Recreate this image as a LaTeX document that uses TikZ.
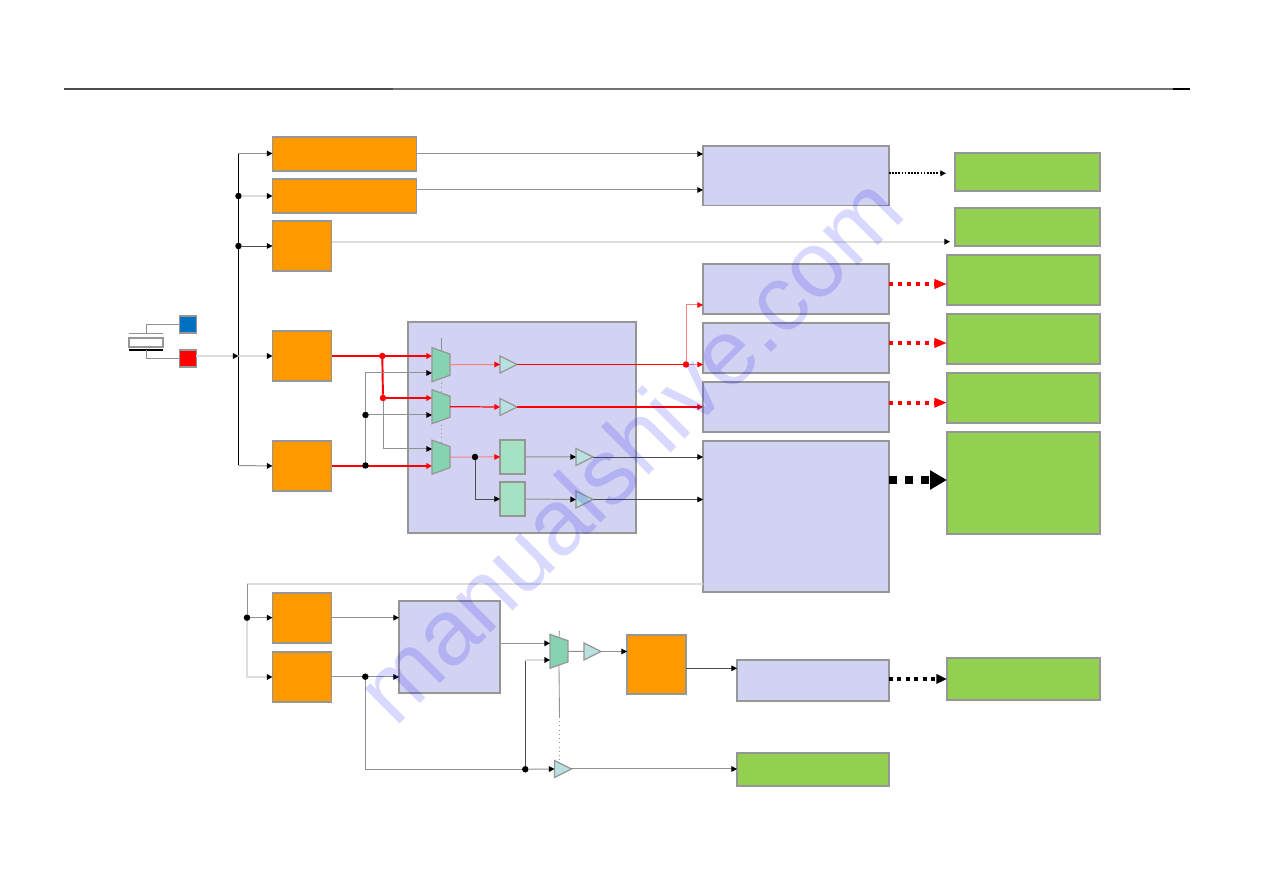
\documentclass[tikz,border=0pt]{standalone}
\usepackage{fontspec}
\usepackage{tikz}
\usetikzlibrary{shapes,shapes.geometric,arrows.meta,positioning}
\newfontfamily\markfont{Liberation Sans}
\definecolor{boxorange}{RGB}{255,153,0}
\definecolor{boxlav}{RGB}{210,210,242}
\definecolor{boxgreen}{RGB}{146,208,80}
\definecolor{boxblue}{RGB}{0,112,192}
\definecolor{muxgreen}{RGB}{133,211,176}
\definecolor{ampblue}{RGB}{185,224,224}
\definecolor{regmint}{RGB}{165,225,195}
\definecolor{edgegray}{RGB}{150,150,150}
\definecolor{wiregray}{RGB}{145,145,145}
\definecolor{wirepale}{RGB}{221,221,221}
\definecolor{wirepink}{RGB}{245,130,130}
\tikzset{
  plainbox/.style={draw=edgegray,line width=.35pt,inner sep=0,outer sep=0,anchor=north west},
  orangebox/.style={plainbox,fill=boxorange},
  lavbox/.style={plainbox,fill=boxlav},
  greenbox/.style={plainbox,fill=boxgreen},
  regbox/.style={plainbox,fill=regmint},
  muxbox/.style={draw=edgegray,line width=.35pt,fill=muxgreen,trapezium,trapezium stretches=true,
    shape border rotate=270,trapezium left angle=73,trapezium right angle=73,
    minimum width=.34cm,minimum height=.18cm,inner sep=.5pt,outer sep=0},
  ampbox/.style={draw=edgegray,line width=.35pt,fill=ampblue,isosceles triangle,isosceles triangle stretches=true,
    minimum width=.17cm,minimum height=.17cm,inner sep=0,outer sep=0,anchor=lower side},
  bluepin/.style={plainbox,fill=boxblue},
  dotnode/.style={circle,fill=black,inner sep=0,minimum size=.065cm,outer sep=0},
  reddot/.style={circle,fill=red,inner sep=0,minimum size=.065cm,outer sep=0},
  tipblack/.style={-{Triangle[black,length=1.6pt,width=1.6pt]}},
  tipred/.style={-{Triangle[red,length=1.6pt,width=1.6pt]}},
  wire/.style={line width=.28pt,color=wiregray},
  wiredark/.style={line width=.25pt,color=black!70},
  wirelight/.style={line width=.55pt,color=wirepale},
  wirered/.style={line width=.55pt,color=red},
  wirethin/.style={line width=.28pt,color=wirepink},
  selline/.style={line width=.2pt,color=wiregray,densely dotted},
  dotarrow/.style={line width=.57pt,black,dash pattern=on .45pt off .45pt,-{Triangle[length=1.6pt,width=1.6pt]}},
  reddash/.style={line width=1.15pt,red,dash pattern=on 1.2pt off 1.35pt,-{Triangle[length=3.6pt,width=2.6pt]}},
  blackdash/.style={line width=2.3pt,black,dash pattern=on 2.3pt off 2.3pt,-{Triangle[length=4.8pt,width=5.2pt]}},
  smalldash/.style={line width=1.1pt,black,dash pattern=on 1.1pt off 1.3pt,-{Triangle[length=3pt,width=2.6pt]}},
}
\begin{document}
\begin{tikzpicture}[x=1cm,y=-1cm]
  \useasboundingbox (0,0) rectangle (12.63,8.93);
  % header rule
  \coordinate (ruleA) at (.64,.89);
  \coordinate (ruleB) at (3.93,.89);
  \coordinate (ruleC) at (11.73,.89);
  \coordinate (ruleD) at (11.90,.89);
  \draw[line width=.55pt,black!70] (ruleA) -- (ruleB);
  \draw[line width=.4pt,black!55] (ruleB) -- (ruleC);
  \draw[line width=.4pt,black] (ruleC) -- (ruleD);

  % clock blocks
  \node[orangebox,minimum width=1.44cm,minimum height=.34cm] (clka) at (2.725,1.37) {};
  \node[orangebox,minimum width=1.44cm,minimum height=.34cm] (clkb) at (2.725,1.79) {};
  \node[orangebox,minimum width=.59cm,minimum height=.50cm] (clkc) at (2.725,2.21) {};
  \node[orangebox,minimum width=.59cm,minimum height=.50cm] (clkd) at (2.725,3.31) {};
  \node[orangebox,minimum width=.59cm,minimum height=.50cm] (clke) at (2.725,4.41) {};
  \node[orangebox,minimum width=.59cm,minimum height=.50cm] (clkf) at (2.725,5.93) {};
  \node[orangebox,minimum width=.59cm,minimum height=.50cm] (clkg) at (2.725,6.52) {};
  \node[orangebox,minimum width=.59cm,minimum height=.59cm] (clkh) at (6.27,6.35) {};

  % lavender blocks
  \node[lavbox,minimum width=2.28cm,minimum height=2.11cm] (core) at (4.08,3.22) {};
  \node[lavbox,minimum width=1.86cm,minimum height=.595cm] (lavtop) at (7.03,1.46) {};
  \node[lavbox,minimum width=1.86cm,minimum height=.50cm] (lava) at (7.03,2.64) {};
  \node[lavbox,minimum width=1.86cm,minimum height=.50cm] (lavb) at (7.03,3.23) {};
  \node[lavbox,minimum width=1.86cm,minimum height=.50cm] (lavc) at (7.03,3.82) {};
  \node[lavbox,minimum width=1.86cm,minimum height=1.51cm] (lavd) at (7.03,4.41) {};
  \node[lavbox,minimum width=1.01cm,minimum height=.92cm] (lave) at (3.99,6.01) {};
  \node[lavbox,minimum width=1.52cm,minimum height=.41cm] (lavf) at (7.37,6.60) {};

  % green blocks
  \node[greenbox,minimum width=1.45cm,minimum height=.38cm] (grna) at (9.55,1.53) {};
  \node[greenbox,minimum width=1.45cm,minimum height=.38cm] (grnb) at (9.55,2.08) {};
  \node[greenbox,minimum width=1.53cm,minimum height=.50cm] (grnc) at (9.47,2.55) {};
  \node[greenbox,minimum width=1.53cm,minimum height=.50cm] (grnd) at (9.47,3.14) {};
  \node[greenbox,minimum width=1.53cm,minimum height=.50cm] (grne) at (9.47,3.73) {};
  \node[greenbox,minimum width=1.53cm,minimum height=1.02cm] (grnf) at (9.47,4.32) {};
  \node[greenbox,minimum width=1.53cm,minimum height=.42cm] (grng) at (9.47,6.58) {};
  \node[greenbox,minimum width=1.52cm,minimum height=.33cm] (grnh) at (7.37,7.53) {};

  % crystal and its pins
  \node[bluepin,minimum width=.17cm,minimum height=.17cm] (pinb) at (1.795,3.16) {};
  \node[plainbox,fill=red,minimum width=.17cm,minimum height=.17cm] (pinr) at (1.795,3.50) {};
  \node[plainbox,fill=white,minimum width=.34cm,minimum height=.09cm] (xtal) at (1.29,3.38) {};
  \coordinate (platea) at (1.29,3.34);
  \coordinate (plateb) at (1.63,3.34);
  \coordinate (platec) at (1.29,3.50);
  \coordinate (plated) at (1.63,3.50);
  \draw[wire] (platea) -- (plateb);
  \draw[line width=.3pt,black] (platec) -- (plated);
  \draw[wire] (pinb.west) -| (xtal.north |- platea);
  \draw[wire] (pinr.west) -| (xtal.south |- platec);

  % clock bus
  \coordinate (bustop) at (2.385,1.535);
  \coordinate (busend) at (2.385,4.655);
  \coordinate (busin) at (2.385,3.56);
  \draw[line width=.4pt,black] (bustop) -- (busend);
  \node[dotnode] (busb) at (2.385,1.96) {};
  \node[dotnode] (busc) at (2.385,2.46) {};
  \draw[wire,tipblack] (bustop) -- (clka.west |- bustop);
  \draw[wirelight,tipblack] (busb) -- (clkb.west);
  \draw[wiredark,tipblack] (busc) -- (clkc.west);
  \draw[wirelight,tipblack] (busin) -- (clkd.west);
  \draw[wire,tipblack] (busend) -- (clke.west);
  \draw[wirelight,tipblack] (pinr.east |- busin) -- (busin);

  % muxes, amps and registers
  \node[muxbox] (muxa) at (4.41,3.647) {};
  \node[muxbox] (muxb) at (4.41,4.067) {};
  \node[muxbox] (muxc) at (4.41,4.572) {};
  \node[muxbox] (muxd) at (5.59,6.513) {};
  \node[ampbox] (ampa) at (5.00,3.645) {};
  \node[ampbox] (ampb) at (5.00,4.07) {};
  \node[ampbox] (ampc) at (5.76,4.57) {};
  \node[ampbox] (ampd) at (5.76,4.995) {};
  \node[ampbox] (ampe) at (5.84,6.515) {};
  \node[ampbox] (ampf) at (5.545,7.69) {};
  \node[regbox,minimum width=.25cm,minimum height=.34cm] (rega) at (5.00,4.40) {};
  \node[regbox,minimum width=.25cm,minimum height=.34cm] (regb) at (5.00,4.82) {};

  % mux select lines
  \coordinate (seltop) at (4.41,3.38);
  \coordinate (seltopb) at (5.595,6.31);
  \coordinate (selmid) at (5.595,7.17);
  \draw[line width=.2pt,wiregray] (seltop) -- (muxa.north);
  \draw[selline] (muxa.south) -- (muxb.north);
  \draw[selline] (muxb.south) -- (muxc.north);
  \draw[line width=.2pt,wiregray] (seltopb) -- (muxd.north);
  \draw[line width=.25pt,wiregray] (muxd.south) -- (selmid);
  \draw[selline] (selmid) -- (selmid |- ampf.north);

  % inputs of the muxes
  \draw[wirered,tipred] (clkd.east) -- (muxa.west |- clkd.east);
  \draw[wirered,tipred] (clke.east) -- (muxc.west |- clke.east);
  \node[reddot] (reda) at (3.823,3.56) {};
  \node[reddot] (redb) at (3.83,3.98) {};
  \node[dotnode] (jncb) at (3.655,4.15) {};
  \node[dotnode] (jnca) at (3.655,4.655) {};
  \draw[wirered] (reda) -- (redb);
  \draw[wirered,tipred] (redb) -- (muxb.west |- redb);
  \draw[wire,tipblack] (jnca) -- (jncb) |- (muxa.west |- 0,3.73);
  \draw[wire,tipblack] (jncb) -- (muxb.west |- jncb);
  \draw[wire,tipblack] (redb) |- (muxc.west |- 0,4.49);

  % outputs of the muxes
  \node[reddot] (split) at (6.86,3.645) {};
  \node[dotnode] (regsplit) at (4.75,4.57) {};
  \draw[wirethin,tipred] (muxa.east) -- (ampa.lower side);
  \draw[line width=.35pt,red] (ampa.apex) -- (split);
  \draw[wirethin,tipred] (split) |- (lava.west |- 0,3.05);
  \draw[wirethin,tipred] (split) -- (lavb.west |- split);
  \draw[line width=.35pt,red,tipred] (muxb.east) -- (ampb.lower side);
  \draw[line width=.35pt,red,tipred] (ampb.apex) -- (lavc.west |- ampb.apex);
  \draw[wirethin,tipred] (regsplit) -- (rega.west);
  \draw[wirethin] (muxc.east) -- (regsplit);
  \draw[wiredark,tipblack] (regsplit) |- (regb.west);
  \draw[wire,tipblack] (rega.east) -- (ampc.lower side);
  \draw[wire,tipblack] (regb.east) -- (ampd.lower side);
  \draw[wiredark,tipblack] (ampc.apex) -- (lavd.west |- ampc.apex);
  \draw[wiredark,tipblack] (ampd.apex) -- (lavd.west |- ampd.apex);

  % upper block links
  \draw[wire,tipblack] (clka.east) -- (lavtop.west |- clka.east);
  \draw[wire,tipblack] (clkb.east |- 0,1.90) -- (lavtop.west |- 0,1.90);
  \coordinate (grnbin) at (9.50,2.417);
  \draw[wirelight,tipblack] (clkc.east |- grnbin) -- (grnbin);

  % arrows to the green blocks
  \draw[dotarrow] (lavtop.east |- 0,1.733) -- (9.46,1.733) coordinate (dotend);
  \draw[reddash] (lava.east |- 0,2.84) -- (grnc.west |- 0,2.84);
  \draw[reddash] (lavb.east |- 0,3.43) -- (grnd.west |- 0,3.43);
  \draw[reddash] (lavc.east |- 0,4.027) -- (grne.west |- 0,4.027);
  \draw[blackdash] (lavd.east |- 0,4.80) -- (grnf.west |- 0,4.80);
  \draw[smalldash] (lavf.east |- 0,6.79) -- (grng.west |- 0,6.79);

  % feedback and lower chain
  \coordinate (fbcorner) at (2.47,5.84);
  \draw[wire,tipblack] (clkg.east) -- (lave.west |- clkg.east);
  \node[dotnode] (fbjnc) at (2.47,6.177) {};
  \node[dotnode] (lowjnc) at (3.653,6.767) {};
  \node[dotnode] (ampjnc) at (5.253,7.693) {};
  \draw[wirelight] (lavd.west |- fbcorner) -- (fbcorner);
  \draw[wire] (fbcorner) -- (fbjnc);
  \draw[wirelight,tipblack] (fbjnc) |- (clkg.west);
  \draw[wire,tipblack] (fbjnc) -- (clkf.west |- fbjnc);
  \draw[wire,tipblack] (clkf.east |- fbjnc) -- (lave.west |- fbjnc);
  \draw[wire] (lowjnc) |- (ampjnc);
  \draw[wire,tipblack] (ampjnc) -- (ampf.lower side);
  \draw[wiredark] (ampjnc) -- (ampjnc |- 0,6.60);
  \draw[wirelight,tipblack] (ampjnc |- 0,6.60) -- (muxd.west |- 0,6.60);
  \draw[wire,tipblack] (lave.east |- 0,6.433) -- (muxd.west |- 0,6.433);
  \draw[wire] (muxd.east) -- (ampe.lower side);
  \draw[wire,tipblack] (ampe.apex) -- (clkh.west |- ampe.apex);
  \draw[wiredark,tipblack] (clkh.east |- 0,6.683) -- (lavf.west |- 0,6.683);
  \draw[wire,tipblack] (ampf.apex) -- (grnh.west |- ampf.apex);

  % site stamp
  \node[rotate=45,anchor=base west,inner sep=0,text=blue,text opacity=.15] (stamp) at (3.95,7.29)
    {\markfont\fontsize{26.5}{30}\selectfont manualshive.com};
\end{tikzpicture}
\end{document}
